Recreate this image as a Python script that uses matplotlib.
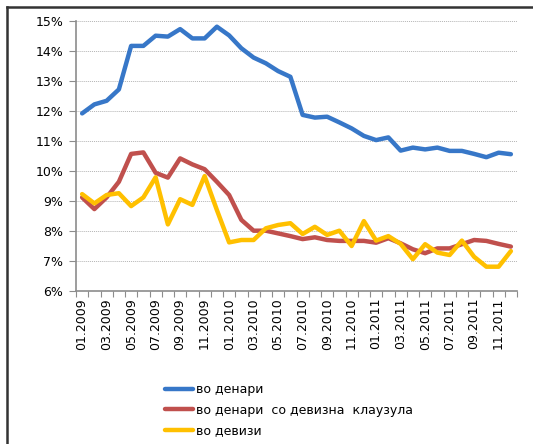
import matplotlib
matplotlib.use('Agg')
import matplotlib.pyplot as plt
from matplotlib.lines import Line2D

months = [f'{m:02d}.{y}' for y in (2009, 2010, 2011) for m in range(1, 13)]

denari = [11.92, 12.22, 12.34, 12.72, 14.17, 14.17, 14.51, 14.48, 14.73, 14.42, 14.42, 14.81,
          14.52, 14.09, 13.78, 13.59, 13.33, 13.14, 11.87, 11.78, 11.81, 11.62, 11.42, 11.17,
          11.03, 11.12, 10.68, 10.78, 10.72, 10.78, 10.67, 10.67, 10.57, 10.46, 10.61, 10.56]

klauzula = [9.12, 8.73, 9.12, 9.64, 10.57, 10.62, 9.94, 9.78, 10.42, 10.22, 10.06, 9.64,
            9.20, 8.37, 8.01, 8.01, 7.92, 7.83, 7.73, 7.79, 7.70, 7.67, 7.67, 7.67,
            7.61, 7.76, 7.59, 7.39, 7.26, 7.42, 7.42, 7.56, 7.70, 7.67, 7.57, 7.48]

devizi = [9.23, 8.92, 9.20, 9.26, 8.83, 9.12, 9.79, 8.22, 9.06, 8.87, 9.83, 8.70,
          7.62, 7.70, 7.70, 8.09, 8.20, 8.26, 7.90, 8.14, 7.87, 8.01, 7.50, 8.33,
          7.68, 7.83, 7.57, 7.06, 7.56, 7.28, 7.20, 7.68, 7.14, 6.81, 6.81, 7.33]

labels = ['во денари', 'во денари  со девизна  клаузула', 'во девизи']
colors = ['#3777c8', '#c0504d', '#ffc000']

fig = plt.figure(figsize=(5.33, 4.44), dpi=100)
ax = fig.add_axes([76 / 533, 153 / 444, 441 / 533, 270 / 444])

x = list(range(len(months)))
for vals, lab, col in zip([denari, klauzula, devizi], labels, colors):
    ax.plot(x, vals, color=col, linewidth=3.2, label=lab, solid_capstyle='round')

ax.set_ylim(6, 15)
ax.set_xlim(-0.5, len(months) - 0.5)
ax.set_yticks(range(6, 16))
ax.set_yticklabels([f'{v}%' for v in range(6, 16)], fontsize=9)
ax.yaxis.grid(True, linestyle=(0, (1, 1)), color='#b4b4b4', linewidth=0.7)
ax.set_axisbelow(True)

# category boundaries get the tick marks, labels sit at every other month
ax.set_xticks([i - 0.5 for i in range(len(months) + 1)])
ax.set_xticklabels([])
ax.set_xticks(x[::2], minor=True)
ax.set_xticklabels(months[::2], minor=True, rotation=90, fontsize=9)
ax.tick_params(axis='x', which='minor', length=0, pad=5)
ax.tick_params(axis='x', which='major', length=4, color='#8c8c8c')
ax.tick_params(axis='y', length=5, color='#8c8c8c', pad=4)

for s in ['top', 'right']:
    ax.spines[s].set_visible(False)
for s in ['left', 'bottom']:
    ax.spines[s].set_color('#8c8c8c')
    ax.spines[s].set_linewidth(1.2)

fig.legend(loc='upper left', bbox_to_anchor=(160 / 533, 1 - 378 / 444), frameon=False,
           fontsize=9, handlelength=2.2, handletextpad=0.3, labelspacing=0.62, borderaxespad=0)

# outer frame (left and top edge visible in the crop)
fig.add_artist(Line2D([7 / 533, 7 / 533], [0, 1 - 7 / 444], color='#333333', linewidth=1.8))
fig.add_artist(Line2D([7 / 533, 1], [1 - 7 / 444, 1 - 7 / 444], color='#333333', linewidth=1.8))

fig.savefig('out.png', dpi=100)
